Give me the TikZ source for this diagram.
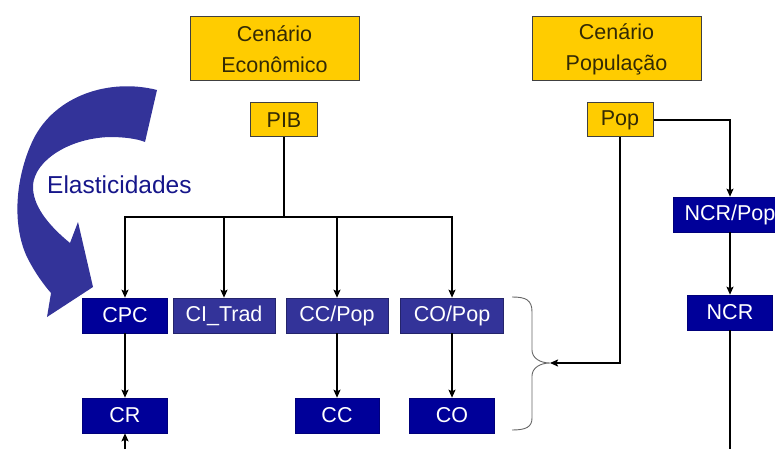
\documentclass[tikz,border=0pt]{standalone}
\usepackage{fontspec}
\setmainfont{Liberation Sans}
\usetikzlibrary{arrows.meta}
\definecolor{scengold}{HTML}{FFCC00}
\definecolor{scentext}{HTML}{332A05}
\definecolor{navydeep}{HTML}{000099}
\definecolor{navysoft}{HTML}{333399}
\definecolor{bendblue}{HTML}{333399}
\definecolor{labelblue}{HTML}{16168A}
\begin{document}
\begin{tikzpicture}[x=1pt,y=-1pt,
  scen/.style={draw=black!75, line width=1pt, fill=scengold, text=scentext,
    font=\fontsize{21.5}{31}\selectfont, align=center, inner sep=0pt},
  deepbox/.style={draw=navydeep!80!black, line width=0.6pt, fill=navydeep, text=white,
    font=\fontsize{21.5}{25}\selectfont, inner sep=0pt, minimum height=35pt},
  softbox/.style={deepbox, fill=navysoft, draw=navysoft!70!black},
  flow/.style={line width=2pt, draw=black},
  tip/.style={flow, -{Stealth[length=8pt,width=7pt,inset=1.5pt]}},
]
\useasboundingbox (0,0) rectangle (775,449);
\clip (0,0) rectangle (775,449);

% scenario boxes
\node[scen, minimum width=169pt, minimum height=64pt] (eco) at (274.5,49) {Cenário\\Econômico};
\node[scen, minimum width=169pt, minimum height=64pt] (popsc) at (616.5,49) {Cenário\\População};
\node[scen, minimum width=67pt, minimum height=34pt] (pib) at (284,120) {PIB};
\node[scen, minimum width=66pt, minimum height=34pt] (pop) at (620,120) {Pop};

% consumption variables
\node[deepbox, minimum width=85pt]  (cpc)   at (125,315.5) {CPC};
\node[softbox, minimum width=102pt] (citr)  at (224,315.5) {CI\_Trad};
\node[softbox, minimum width=102pt] (ccpop) at (337,315.5) {CC/Pop};
\node[softbox, minimum width=103pt] (copop) at (452,315.5) {CO/Pop};
\node[deepbox, minimum width=85pt]  (cr)    at (125,415.5) {CR};
\node[deepbox, minimum width=84pt]  (cc)    at (337,415.5) {CC};
\node[deepbox, minimum width=85pt]  (co)    at (452,415.5) {CO};
\node[deepbox, minimum width=114pt] (ncrpop) at (730,214.5) {NCR/Pop};
\node[deepbox, minimum width=85pt]  (ncr)   at (730,312.5) {NCR};

% elasticity arrow
\fill[bendblue] (157,90) .. controls (110,78) and (55,95) .. (33,140)
  .. controls (15,178) and (12,225) .. (27,257)
  .. controls (35,273) and (44,285) .. (51,293)
  -- (47,317) -- (93,287) -- (78,222) -- (70,243)
  .. controls (48,225) and (32,205) .. (33,185)
  .. controls (35,160) and (70,138) .. (110,137)
  .. controls (125,137) and (138,139) .. (145,142) -- cycle;
\node[text=labelblue, font=\fontsize{24.5}{28}\selectfont, anchor=base west, inner sep=0pt]
  (elast) at (47,193) {Elasticidades};

% brace grouping the per-capita consumptions
\coordinate (brace) at (550,363);
\draw[black!60, line width=0.9pt] (512,297) .. controls (526,297) and (532,300) .. (532,312)
  -- (532,350) .. controls (532,358) and (540,363) .. (brace)
  .. controls (540,363) and (532,368) .. (532,376)
  -- (532,418) .. controls (532,427) and (526,430) .. (512,430);

% GDP fan-out
\coordinate (bus) at (284,217);
\draw[flow] (pib.south) -- (bus);
\draw[flow, line cap=rect] (cpc.north |- bus) -- (copop.north |- bus);
\draw[tip] (cpc.north |- bus) -- (cpc.north);
\draw[tip] (citr.north |- bus) -- (citr.north);
\draw[tip] (ccpop.north |- bus) -- (ccpop.north);
\draw[tip] (copop.north |- bus) -- (copop.north);

\draw[tip] (cpc) -- (cr);
\draw[tip] (ccpop) -- (cc);
\draw[tip] (copop) -- (co);
\coordinate (crin) at (125,449);
\draw[tip] (crin) -- (cr);

% population links
\draw[tip] (pop.east) -| (ncrpop.north);
\draw[tip] (pop.south) |- (brace);
\draw[tip] (ncrpop) -- (ncr);
\coordinate (ncrout) at (730,449);
\draw[flow] (ncr.south) -- (ncrout);
\end{tikzpicture}
\end{document}
